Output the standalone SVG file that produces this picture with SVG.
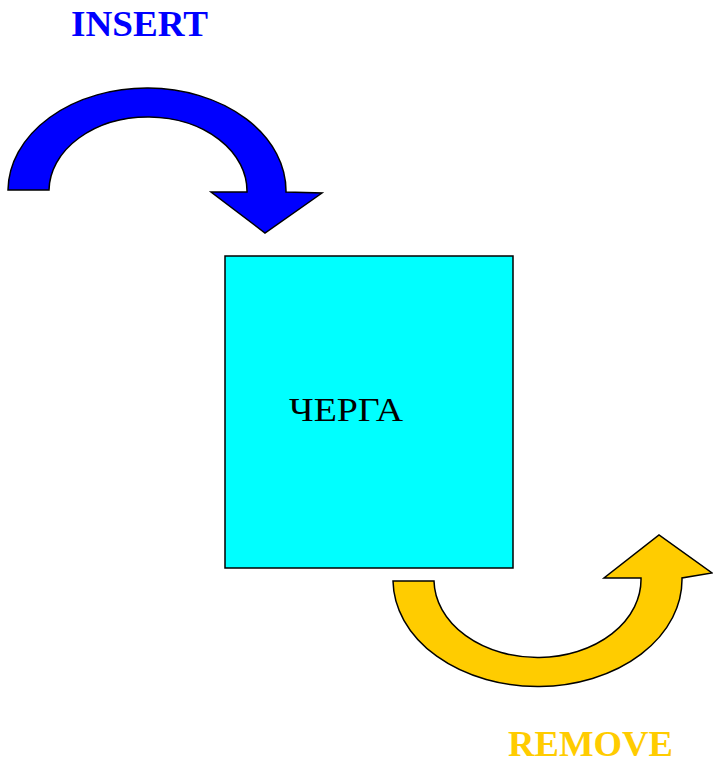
<svg xmlns="http://www.w3.org/2000/svg" width="713" height="760" viewBox="0 0 713 760">
<style>
.arrow{stroke:#000;stroke-width:1.5;stroke-linejoin:miter}
.lbl{font-family:"Liberation Serif","Times New Roman",serif;font-weight:bold;font-size:35px}
</style>
<rect width="713" height="760" fill="#fff"/>
<g id="queue">
<rect x="225" y="256" width="288" height="312" fill="#00ffff" stroke="#000" stroke-width="1.5"/>
<text x="289" y="421" font-family="Liberation Serif, Times New Roman, serif" font-size="33" fill="#000" textLength="114" lengthAdjust="spacingAndGlyphs">ЧЕРГА</text>
</g>
<g id="connectors">
<g id="insert">
<path class="arrow" fill="#0000ff" d="M8,190 A139,103 0 0 1 286,192 L322,193 L265,233 L211,192 L247,192 A99,74 0 0 0 49,190 Z"/>
<text class="lbl" x="71" y="36" fill="#0000ff" textLength="137" lengthAdjust="spacingAndGlyphs">INSERT</text>
</g>
<g id="remove">
<path class="arrow" fill="#ffcc00" d="M393,581 L434,581 A103.5,78 0 0 0 641,578 L604,578 L659,535 L712,573 L682,578 A144.5,107 0 0 1 393,581 Z"/>
<text class="lbl" x="508" y="756" fill="#ffcc00" textLength="165" lengthAdjust="spacingAndGlyphs">REMOVE</text>
</g>
</g>
</svg>
